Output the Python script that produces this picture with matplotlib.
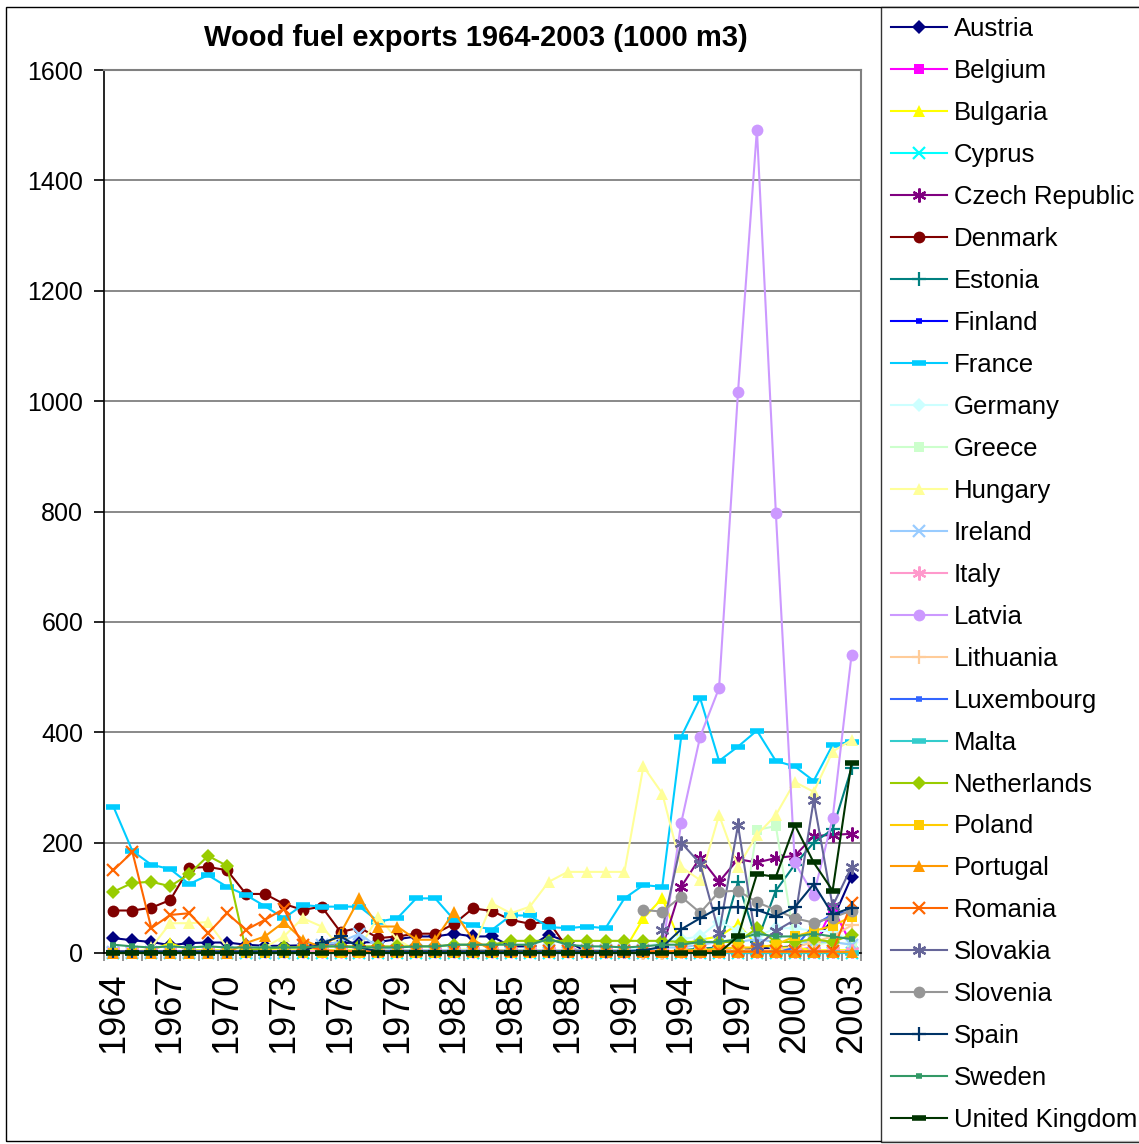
import numpy as np
import matplotlib
matplotlib.use("Agg")
import matplotlib.pyplot as plt
from matplotlib.patches import Rectangle

plt.rcParams['font.family'] = ['Liberation Sans', 'DejaVu Sans']

nan = np.nan
years = list(range(1964, 2004))

austria = [27, 23, 20, 14, 18, 19, 19, 15, 13, 13, 14, 16, 18, 19, 20, 25, 30, 30, 35, 30,
           30, 12, 12, 33, 20, 3, 2, 2, 3, 3, 4, 5, 5, 5, 8, 10, 12, 20, 60, 138]
belgium = [0, 0, 0, 0, 0, 0, 0, 0, 0, 0, 0, 0, 0, 0, 0, 0, 0, 0, 0, 0,
           0, 0, 0, 0, 0, 0, 0, 0, 0, 0, 0, 0, 0, 0, 0, 2, 5, 10, 82, 15]
bulgaria = [0, 0, 5, 18, 5, 5, 5, 5, 5, 5, 5, 5, 5, 5, 5, 5, 5, 5, 5, 5,
            5, 5, 5, 5, 5, 5, 5, 5, 63, 99, 15, 24, 30, 52, 15, 10, 10, 5, 5, 5]
cyprus = [0] * 40
czech = [nan] * 29 + [10, 120, 173, 129, 170, 164, 172, 176, 212, 214, 216]
denmark = [77, 77, 82, 96, 154, 156, 150, 107, 107, 89, 78, 84, 38, 46, 27, 30, 35, 35, 53, 81,
           76, 60, 53, 57, 8, 3, 2, 2, 2, 2, 2, 2, 2, 2, 2, 2, 2, 2, 2, 2]
estonia = [nan] * 28 + [0, 0, 5, 8, 10, 129, 20, 113, 160, 200, 224, 335]
finland = [2] * 40
france = [265, 185, 160, 152, 125, 141, 120, 105, 85, 63, 87, 84, 84, 84, 57, 63, 99, 99, 60, 50,
          42, 68, 68, 47, 45, 48, 45, 99, 123, 120, 392, 462, 348, 374, 403, 348, 338, 312, 377, 383]
germany = [3] * 27 + [5, 10, 20, 25, 30, 57, 40, 30, 45, 45, 40, 40, 20]
greece = [0] * 33 + [5, 223, 230, 20, 15, 20, 15]
hungary = [0, 0, 10, 54, 54, 56, 10, 5, 10, 30, 63, 48, 10, 10, 66, 24, 5, 5, 5, 8,
           90, 72, 84, 129, 147, 147, 147, 147, 338, 289, 156, 132, 250, 156, 214, 250, 310, 292, 365, 386]
ireland = [2, 2, 2, 2, 2, 2, 2, 2, 2, 2, 5, 15, 20, 35, 10, 5, 5, 5, 5, 5,
           5, 5, 5, 5, 5, 5, 5, 5, 5, 10, 10, 15, 20, 20, 25, 20, 20, 20, 20, 15]
italy = [3] * 40
latvia = [nan] * 29 + [5, 236, 392, 480, 1016, 1492, 798, 164, 105, 244, 540]
lithuania = [nan] * 28 + [0, 0, 2, 5, 5, 5, 5, 5, 10, 20, 30, 50]
luxembourg = [0] * 36 + [10, 50, 70, 75]
malta = [0] * 40
netherlands = [111, 127, 129, 121, 143, 176, 158, 5, 8, 10, 10, 12, 12, 12, 12, 12, 12, 12, 15, 15,
               15, 22, 22, 22, 22, 22, 22, 22, 22, 22, 20, 20, 20, 20, 45, 20, 20, 25, 20, 33]
poland = [0] * 28 + [2, 2, 5, 5, 8, 10, 10, 15, 30, 40, 49, 66]
portugal = [0, 0, 0, 0, 0, 0, 0, 18, 30, 56, 24, 10, 36, 99, 48, 48, 24, 24, 75, 24,
            5, 3, 3, 3, 2, 2, 2, 2, 2, 2, 2, 2, 2, 2, 2, 2, 2, 2, 2, 2]
romania = [150, 183, 45, 69, 72, 36, 72, 42, 60, 80, 15, 5, 3, 3, 3, 3, 3, 3, 3, 3,
           3, 3, 3, 3, 3, 3, 3, 3, 3, 3, 3, 3, 3, 3, 3, 3, 3, 3, 3, 90]
slovakia = [nan] * 29 + [42, 200, 162, 36, 232, 12, 40, 60, 277, 85, 156]
slovenia = [nan] * 28 + [78, 75, 102, 73, 111, 113, 92, 78, 63, 55, 64, 77]
spain = [3, 3, 3, 3, 3, 3, 3, 3, 3, 3, 3, 18, 30, 10, 3, 3, 3, 3, 3, 3,
         3, 3, 3, 3, 3, 3, 3, 3, 5, 11, 43, 63, 82, 83, 78, 66, 83, 125, 70, 82]
sweden = [15, 12, 10, 12, 10, 12, 10, 10, 10, 10, 10, 12, 12, 10, 10, 10, 12, 12, 15, 15,
          15, 15, 15, 25, 15, 12, 12, 10, 12, 15, 15, 20, 20, 25, 35, 30, 30, 35, 30, 25]
uk = [0] * 33 + [30, 143, 138, 232, 164, 113, 345]

countries = ["Austria", "Belgium", "Bulgaria", "Cyprus", "Czech Republic", "Denmark",
             "Estonia", "Finland", "France", "Germany", "Greece", "Hungary", "Ireland",
             "Italy", "Latvia", "Lithuania", "Luxembourg", "Malta", "Netherlands", "Poland",
             "Portugal", "Romania", "Slovakia", "Slovenia", "Spain", "Sweden", "United Kingdom"]
series = [austria, belgium, bulgaria, cyprus, czech, denmark, estonia, finland, france,
          germany, greece, hungary, ireland, italy, latvia, lithuania, luxembourg, malta,
          netherlands, poland, portugal, romania, slovakia, slovenia, spain, sweden, uk]

colors = ["#000080", "#FF00FF", "#FFFF00", "#00FFFF", "#800080", "#800000", "#008080",
          "#0000FF", "#00CCFF", "#CCFFFF", "#CCFFCC", "#FFFF99", "#99CCFF", "#FF99CC",
          "#CC99FF", "#FFCC99", "#3366FF", "#33CCCC", "#99CC00", "#FFCC00", "#FF9900",
          "#FF6600", "#666699", "#969696", "#003366", "#339966", "#003300"]

# Excel-style marker cycle: diamond, square, triangle, x, star, circle, plus, short dash, long dash
star = (6, 2, 0)
cycle = [("D", 7), ("s", 7.5), ("^", 9), ("x", 8), (star, 10), ("o", 8.5), ("+", 10),
         ("_", 5), ("_", 10)]

fig = plt.figure(figsize=(11.39, 11.44), dpi=100)
ax = fig.add_axes([104 / 1139, 1 - 953 / 1144, (861 - 104) / 1139, (953 - 70) / 1144])

x = np.arange(len(years))
handles = []
for i, (name, vals, col) in enumerate(zip(countries, series, colors)):
    mk, ms = cycle[i % 9]
    if mk == "_":
        mew = 4
    elif mk in ("x", "+") or mk == star:
        mew = 1.6
    else:
        mew = 0
    (ln,) = ax.plot(x, np.array(vals, dtype=float), color=col, lw=1.5, marker=mk, ms=ms,
                    markerfacecolor=col, markeredgecolor=col, markeredgewidth=mew,
                    clip_on=False, zorder=3 + i * 0.01, label=name)
    handles.append(ln)

ax.set_xlim(-0.5, len(years) - 0.5)
ax.set_ylim(0, 1600)
ax.set_yticks(range(0, 1601, 200))
ax.yaxis.grid(True, color="#808080", lw=1.3)
ax.set_axisbelow(True)
ax.tick_params(axis="y", labelsize=18, length=7, width=1.2, direction="out", pad=8)

ax.set_xticks(x[::3])
ax.set_xticklabels([str(y) for y in years[::3]], rotation=90, fontsize=26)
ax.set_xticks(np.arange(-0.5, len(years), 1), minor=True)
ax.tick_params(axis="x", which="major", length=0, pad=14)
ax.tick_params(axis="x", which="minor", length=6, width=1.2, color="#808080")

for side in ("top", "right"):
    ax.spines[side].set_color("#808080")
    ax.spines[side].set_linewidth(1.5)
ax.spines["left"].set_linewidth(1.2)
ax.spines["bottom"].set_linewidth(1.2)

fig.text(476 / 1139, 1 - 38 / 1144, "Wood fuel exports 1964-2003 (1000 m3)",
         ha="center", va="center", fontsize=21, fontweight="bold")

# outer chart border
fig.patches.append(Rectangle((6 / 1139, 1 - 1141 / 1144), 1.0, (1141 - 7) / 1144,
                             transform=fig.transFigure, fill=False, ec="black", lw=1.0))

leg = fig.legend(handles, countries, loc="upper left",
                 bbox_to_anchor=(881 / 1139, 1 - 7 / 1144), frameon=True, fancybox=False,
                 edgecolor="black", fontsize=18.5, numpoints=1, handlelength=2.2,
                 handletextpad=0.25, labelspacing=0.70, borderpad=0.38, borderaxespad=0)
leg.get_frame().set_linewidth(1.0)

fig.savefig("out.png", dpi=100)
